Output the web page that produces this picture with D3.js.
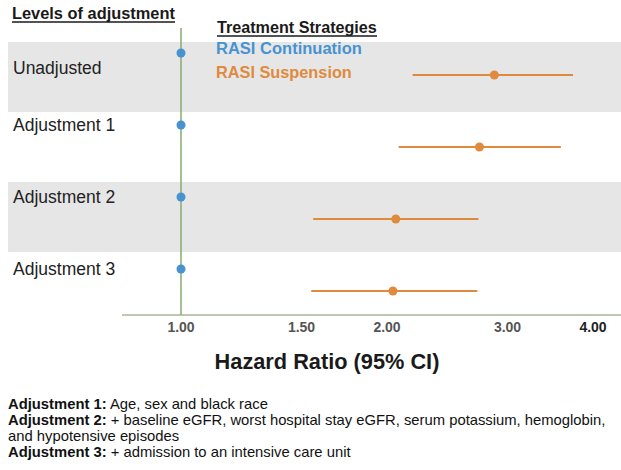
<!DOCTYPE html>
<html>
<head>
<meta charset="utf-8">
<script src="https://cdn.jsdelivr.net/npm/d3@7"></script>
<style>
  html, body { margin: 0; padding: 0; background: #fff; }
  svg { display: block; font-family: "Liberation Sans", Arial, sans-serif; }
</style>
</head>
<body>
<svg id="chart"></svg>
<script>
// data
let levels = ["Unadjusted", "Adjustment 1", "Adjustment 2", "Adjustment 3"];
let continuationHR = [1.00, 1.00, 1.00, 1.00];
let suspensionHR = [2.87, 2.73, 2.06, 2.04];
let suspensionLo = [2.18, 2.08, 1.56, 1.55];
let suspensionHi = [3.74, 3.59, 2.72, 2.71];
let tickValues = [1, 1.5, 2, 3, 4];
let tickLabels = ["1.00", "1.50", "2.00", "3.00", "4.00"];
let footnotes = [
    {head: "Adjustment 1:", body: " Age, sex and black race"},
    {head: "Adjustment 2:", body: " + baseline eGFR, worst hospital stay eGFR, serum potassium, hemoglobin,"},
    {head: "", body: "and hypotensive episodes"},
    {head: "Adjustment 3:", body: " + admission to an intensive care unit"}
];

// colors
let colorBlue = "#4793d0";
let colorOrange = "#e08a3e";
let colorBand = "#e6e6e6";
let colorRef = "#8fae7a";

let width = 621, height = 470;
let svg = d3.select("#chart").attr("width", width).attr("height", height);

let x = d3.scaleLog().domain([1, 4]).range([181, 593]);
// background rows
let yBand = d3.scaleBand().domain(levels).range([42, 322]);
// mark rows (blue on top, orange below)
let yMark = d3.scalePoint().domain(levels).range([53, 269]);
let orangeOffset = 22;

// shrink/grow a text node so it covers a given width
function fit(sel, w) {
    let l = sel.node().getComputedTextLength();
    sel.attr("font-size", parseFloat(sel.attr("font-size")) * w / l);
    return sel;
}

// grey bands
svg.selectAll(".band")
    .data(levels.filter((d, i) => i % 2 === 0))
    .enter().append("rect")
    .attr("class", "band")
    .attr("x", 8)
    .attr("width", width - 8)
    .attr("y", d => yBand(d))
    .attr("height", yBand.bandwidth())
    .attr("fill", colorBand);

// x axis line
svg.append("line")
    .attr("x1", 122).attr("x2", width)
    .attr("y1", 315).attr("y2", 315)
    .attr("stroke", "#a9b694").attr("stroke-width", 1.5);

// reference line at HR = 1
svg.append("line")
    .attr("x1", x(1)).attr("x2", x(1))
    .attr("y1", 28).attr("y2", 315)
    .attr("stroke", colorRef).attr("stroke-width", 1.6);

// tick labels
svg.selectAll(".tick")
    .data(tickValues)
    .enter().append("text")
    .attr("class", "tick")
    .attr("x", d => x(d))
    .attr("y", 332)
    .attr("text-anchor", "middle")
    .attr("font-size", 14)
    .attr("font-weight", "bold")
    .attr("fill", (d, i) => i === tickValues.length - 1 ? "#222" : "#555")
    .text((d, i) => tickLabels[i]);

// axis title
fit(svg.append("text")
    .attr("x", 327)
    .attr("y", 369)
    .attr("text-anchor", "middle")
    .attr("font-size", 20)
    .attr("font-weight", "bold")
    .attr("fill", "#1a1a1a")
    .text("Hazard Ratio (95% CI)"), 225);

// row labels
svg.selectAll(".rowlabel")
    .data(levels)
    .enter().append("text")
    .attr("class", "rowlabel")
    .attr("x", 13)
    .attr("y", (d, i) => yMark(d) + (i === 0 ? 15 : 0))
    .attr("dy", "0.35em")
    .attr("font-size", 17.5)
    .attr("fill", "#222")
    .text(d => d);

// headers with underline
function header(txt, x0, y0, w) {
    let t = fit(svg.append("text")
        .attr("x", x0).attr("y", y0)
        .attr("font-size", 15)
        .attr("font-weight", "bold")
        .attr("fill", "#1a1a1a")
        .text(txt), w);
    svg.append("line")
        .attr("x1", x0).attr("x2", x0 + w)
        .attr("y1", y0 + 3).attr("y2", y0 + 3)
        .attr("stroke", "#1a1a1a").attr("stroke-width", 1.3);
    return t;
}
header("Levels of adjustment", 12, 19, 163);
header("Treatment Strategies", 217, 33, 160);

// legend
fit(svg.append("text")
    .attr("x", 216).attr("y", 54)
    .attr("font-size", 15).attr("font-weight", "bold")
    .attr("fill", colorBlue)
    .text("RASI Continuation"), 146);
fit(svg.append("text")
    .attr("x", 216).attr("y", 78)
    .attr("font-size", 15).attr("font-weight", "bold")
    .attr("fill", colorOrange)
    .text("RASI Suspension"), 136);

// RASI continuation points
svg.selectAll(".cont")
    .data(levels)
    .enter().append("circle")
    .attr("class", "cont")
    .attr("cx", (d, i) => x(continuationHR[i]))
    .attr("cy", d => yMark(d))
    .attr("r", 4.5)
    .attr("fill", colorBlue);

// RASI suspension CIs and points
svg.selectAll(".ci")
    .data(levels)
    .enter().append("line")
    .attr("class", "ci")
    .attr("x1", (d, i) => x(suspensionLo[i]))
    .attr("x2", (d, i) => x(suspensionHi[i]))
    .attr("y1", d => yMark(d) + orangeOffset)
    .attr("y2", d => yMark(d) + orangeOffset)
    .attr("stroke", colorOrange)
    .attr("stroke-width", 2);

svg.selectAll(".susp")
    .data(levels)
    .enter().append("circle")
    .attr("class", "susp")
    .attr("cx", (d, i) => x(suspensionHR[i]))
    .attr("cy", d => yMark(d) + orangeOffset)
    .attr("r", 4.5)
    .attr("fill", colorOrange);

// footnotes
let notes = svg.selectAll(".note")
    .data(footnotes)
    .enter().append("text")
    .attr("class", "note")
    .attr("x", 8)
    .attr("y", (d, i) => 409 + i * 16)
    .attr("font-family", "'Liberation Sans Narrow', 'Liberation Sans', sans-serif")
    .attr("font-size", 12)
    .attr("fill", "#111");
notes.append("tspan").attr("font-weight", "bold").text(d => d.head);
notes.append("tspan").text(d => d.body);

// size all notes from the longest line
let longest = notes.filter((d, i) => i === 1).node().getComputedTextLength();
notes.attr("font-size", 12 * 598 / longest);
</script>
</body>
</html>
